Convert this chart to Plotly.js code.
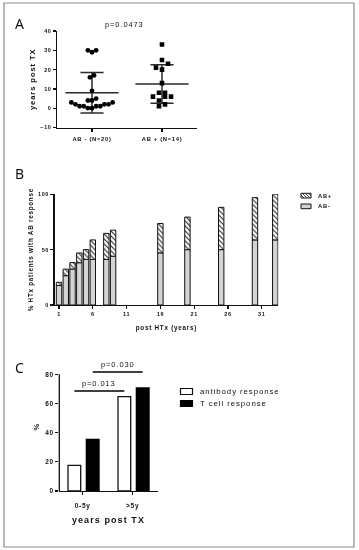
<!DOCTYPE html>
<html><head><meta charset="utf-8">
<script src="https://cdn.plot.ly/plotly-3.0.1.min.js"></script>
<style>
html,body{margin:0;padding:0;background:#fff;}
#chart{width:359px;height:550px;filter:grayscale(1);}
text{letter-spacing:0.12em;}
</style>
</head><body><div id="chart"></div>
<script>
// ---------- DATA ----------
// Panel A: years post TX per patient
const groupsA = ['AB - (N=20)', 'AB + (N=14)'];
const yearsABneg = [30, 29, 30, 17, 16, 9, 4, 4, 5, 3, 2, 2, 1, 1, 0, 0, 1, 1, 2, 3];
const yearsABpos = [33, 25, 23, 21, 20, 13, 8, 8, 6, 4, 6, 6, 1, 2];
const pValueA = 'p=0.0473';
// Panel B: % HTx patients with AB response by years post HTx
const postYears = [1, 2, 3, 4, 5, 6, 8, 9, 16, 20, 25, 30, 33];
const pctABneg = [17.6, 26.5, 32.4, 38.2, 41.2, 41.2, 41.2, 44.1, 47.1, 50.0, 50.0, 58.8, 58.8];
const pctABpos = [2.9, 5.9, 5.9, 8.8, 8.8, 17.6, 23.5, 23.5, 26.5, 29.4, 38.2, 38.2, 41.2];
const seriesB = ['AB+', 'AB-'];
const ticksB = [1, 6, 11, 16, 21, 26, 31];
// Panel C
const periodsC = ['0-5y', '>5y'];
const antibodyResp = [17.6, 64.7];
const tcellResp = [35.3, 70.6];
const seriesC = ['antibody response', 'T cell response'];
const pValuesC = ['p=0.013', 'p=0.030'];

// ---------- HELPERS ----------
const W = 359, H = 550;
const px = x => x / W;
const py = y => 1 - y / H;
const FONT = 'Liberation Sans, Arial, Helvetica, sans-serif';
const INK = '#111';

function swarm(vals, binW, step) {
  const bins = {};
  vals.forEach((v, i) => { const b = Math.floor(v / binW); (bins[b] = bins[b] || []).push(i); });
  const off = new Array(vals.length).fill(0);
  Object.values(bins).forEach(idx => {
    idx.sort((a, b) => vals[a] - vals[b]);
    const n = idx.length;
    idx.forEach((id, k) => {
      let slot;
      if (n % 2 === 1) { const r = Math.ceil(k / 2); slot = k === 0 ? 0 : (k % 2 === 1 ? -r : r); }
      else { const r = Math.floor(k / 2) + 0.5; slot = k % 2 === 0 ? -r : r; }
      off[id] = slot * step;
    });
  });
  return off;
}
function meanSd(v) {
  const m = v.reduce((a, b) => a + b, 0) / v.length;
  const sd = Math.sqrt(v.reduce((a, b) => a + (b - m) * (b - m), 0) / (v.length - 1));
  return [m, sd];
}
function errTrace(g, v) {
  const [m, sd] = meanSd(v);
  const hw = 0.38, cw = 0.165;
  return {
    x: [g - hw, g + hw, null, g, g, null, g - cw, g + cw, null, g - cw, g + cw],
    y: [m, m, null, m - sd, m + sd, null, m + sd, m + sd, null, m - sd, m - sd],
    xaxis: 'x', yaxis: 'y', mode: 'lines', type: 'scatter',
    line: {color: '#2a2a2a', width: 1.5}, hoverinfo: 'skip', showlegend: false
  };
}
function hatchPath(x0, y0, x1, y1, sp) {
  let d = '';
  for (let c = x0 - y1; c <= x1 - y0; c += sp) {
    const ya = Math.max(y0, x0 - c), yb = Math.min(y1, x1 - c);
    if (yb > ya) d += `M${px(ya + c)},${py(ya)}L${px(yb + c)},${py(yb)}`;
  }
  return d;
}

// ---------- TRACES ----------
const offNeg = swarm(yearsABneg, 4, 0.059);
const offPos = swarm(yearsABpos, 4, 0.086);
const traces = [
  errTrace(0, yearsABneg), errTrace(1, yearsABpos),
  {x: offNeg.map(o => 0 + o), y: yearsABneg, type: 'scatter', mode: 'markers', xaxis: 'x', yaxis: 'y',
   marker: {symbol: 'circle', size: 4.8, color: '#000'}, name: groupsA[0], showlegend: false},
  {x: offPos.map(o => 1 + o), y: yearsABpos, type: 'scatter', mode: 'markers', xaxis: 'x', yaxis: 'y',
   marker: {symbol: 'square', size: 4.6, color: '#000'}, name: groupsA[1], showlegend: false},
  // Panel B
  {x: postYears, y: pctABneg, type: 'bar', xaxis: 'x2', yaxis: 'y2', name: seriesB[1], width: 0.8,
   marker: {color: '#d4d4d4', line: {color: '#111', width: 1}}, showlegend: false},
  {x: postYears, y: pctABpos, base: pctABneg, type: 'bar', xaxis: 'x2', yaxis: 'y2', name: seriesB[0], width: 0.8,
   marker: {color: '#fff', line: {color: '#111', width: 1},
            pattern: {shape: '\\', fgcolor: '#222', bgcolor: '#fff', size: 3.5, solidity: 0.3}}, showlegend: false},
];
const barWC = 0.254, offAb = -0.294, offT = 0.073;
traces.push(
  {x: periodsC, y: antibodyResp, type: 'bar', xaxis: 'x3', yaxis: 'y3', name: seriesC[0],
   width: barWC, offset: offAb, marker: {color: '#fff', line: {color: '#111', width: 1.3}}, showlegend: false},
  {x: periodsC, y: tcellResp, type: 'bar', xaxis: 'x3', yaxis: 'y3', name: seriesC[1],
   width: barWC, offset: offT, marker: {color: '#000', line: {color: '#000', width: 1.3}}, showlegend: false}
);

// ---------- LAYOUT ----------
const axBase = {showline: true, linecolor: INK, linewidth: 1.3, ticks: 'outside', ticklen: 3,
  tickwidth: 1.2, tickcolor: INK, showgrid: false, zeroline: false, fixedrange: true};
const tf = (s, w) => ({family: FONT, size: s, color: INK, weight: w || 'bold'});

const abC = offAb + barWC / 2, tC = offT + barWC / 2;
const sig1 = 68.5, sig2 = 81.6;

const shapes = [
  {type: 'rect', xref: 'paper', yref: 'paper', x0: px(4), x1: px(354), y0: py(547), y1: py(3),
   line: {color: '#8a8a8a', width: 1.2}, fillcolor: 'rgba(0,0,0,0)'},
  // y axis line of panel C (0..80)
  {type: 'line', xref: 'paper', yref: 'y3', x0: px(59.3), x1: px(59.3), y0: 0, y1: 80,
   line: {color: INK, width: 1.3}},
  // significance bars
  {type: 'line', xref: 'x3', yref: 'y3', x0: abC, x1: 1 + abC, y0: sig1, y1: sig1, line: {color: '#000', width: 1.4}},
  {type: 'line', xref: 'x3', yref: 'y3', x0: tC, x1: 1 + tC, y0: sig2, y1: sig2, line: {color: '#000', width: 1.4}},
  // legend B
  {type: 'rect', xref: 'paper', yref: 'paper', x0: px(301), x1: px(311), y0: py(198), y1: py(193.3),
   line: {color: '#111', width: 1}, fillcolor: '#fff'},
  {type: 'path', xref: 'paper', yref: 'paper', path: hatchPath(301, 193.3, 311, 198, 3), line: {color: '#222', width: 0.9}},
  {type: 'rect', xref: 'paper', yref: 'paper', x0: px(301), x1: px(311), y0: py(208.7), y1: py(204),
   line: {color: '#111', width: 1}, fillcolor: '#d4d4d4'},
  // legend C
  {type: 'rect', xref: 'paper', yref: 'paper', x0: px(180.5), x1: px(192.5), y0: py(394.5), y1: py(388.5),
   line: {color: '#111', width: 1.2}, fillcolor: '#fff'},
  {type: 'rect', xref: 'paper', yref: 'paper', x0: px(180.5), x1: px(192.5), y0: py(406.5), y1: py(400.5),
   line: {color: '#000', width: 1.2}, fillcolor: '#000'},
];

const ann = (text, x, y, o) => Object.assign({text, x, y, xref: 'paper', yref: 'paper', showarrow: false,
  xanchor: 'center', yanchor: 'middle', font: tf(7, 'normal')}, o || {});
const annotations = [
  ann('A', px(20.5), py(23), {font: {family: 'Noto Sans, sans-serif', size: 14, color: '#111'}}),
  ann('B', px(20.5), py(173), {font: {family: 'Noto Sans, sans-serif', size: 14, color: '#111'}}),
  ann('C', px(20.5), py(367), {font: {family: 'Noto Sans, sans-serif', size: 14, color: '#111'}}),
  ann(pValueA, px(124), py(24), {font: tf(7.5, 'normal')}),
  ann(seriesB[0], px(315.5), py(195.7), {xanchor: 'left', font: tf(5.8)}),
  ann(seriesB[1], px(315.5), py(206.3), {xanchor: 'left', font: tf(5.8)}),
  ann(seriesC[0], px(197.5), py(391.5), {xanchor: 'left', font: tf(7.8, 'normal')}),
  ann(seriesC[1], px(197.5), py(403.5), {xanchor: 'left', font: tf(7.8, 'normal')}),
  {text: pValuesC[0], x: (abC + 1 + abC) / 2, y: sig1 + 5.1, xref: 'x3', yref: 'y3', showarrow: false,
   xanchor: 'center', yanchor: 'middle', font: tf(7.5, 'normal')},
  {text: pValuesC[1], x: (tC + 1 + tC) / 2, y: sig2 + 5.1, xref: 'x3', yref: 'y3', showarrow: false,
   xanchor: 'center', yanchor: 'middle', font: tf(7.5, 'normal')},
];

const layout = {
  width: W, height: H, margin: {l: 0, r: 0, t: 0, b: 0},
  paper_bgcolor: '#fff', plot_bgcolor: '#fff', showlegend: false, barmode: 'overlay',
  font: {family: FONT, color: INK},
  xaxis: Object.assign({}, axBase, {domain: [px(57), px(197)], range: [-0.5, 1.5], tickvals: [0, 1],
    ticktext: groupsA, tickfont: tf(5.8), ticklabelstandoff: 2, anchor: 'y'}),
  yaxis: Object.assign({}, axBase, {domain: [py(127.5), py(31)], range: [-10, 40], tickvals: [-10, 0, 10, 20, 30, 40],
    tickfont: tf(5.5), anchor: 'x', title: {text: 'years post TX', font: tf(7.6), standoff: 3}}),
  xaxis2: Object.assign({}, axBase, {domain: [px(54.5), px(278.3)], range: [0.33, 33.45], tickvals: ticksB,
    tickfont: tf(5.5), anchor: 'y2', title: {text: 'post HTx (years)', font: tf(6.3), standoff: 9}}),
  yaxis2: Object.assign({}, axBase, {domain: [py(305), py(194.3)], range: [0, 100], tickvals: [0, 50, 100],
    tickfont: tf(5.5), anchor: 'x2', title: {text: '% HTx patients with AB response', font: tf(6.3), standoff: 3}}),
  xaxis3: Object.assign({}, axBase, {domain: [px(59.3), px(157.7)], type: 'category', range: [-0.468, 1.5],
    tickfont: tf(6.5), ticklabelstandoff: 5, anchor: 'y3', title: {text: 'years post TX', font: tf(9), standoff: 7}}),
  yaxis3: Object.assign({}, axBase, {domain: [py(491), py(362.6)], range: [0, 88], tickvals: [0, 20, 40, 60, 80],
    showline: false, tickfont: tf(6.5), anchor: 'x3', title: {text: '%', font: tf(7.5), standoff: 4}}),
  shapes, annotations
};

Plotly.newPlot('chart', traces, layout, {staticPlot: true, displayModeBar: false});
</script>
</body></html>
